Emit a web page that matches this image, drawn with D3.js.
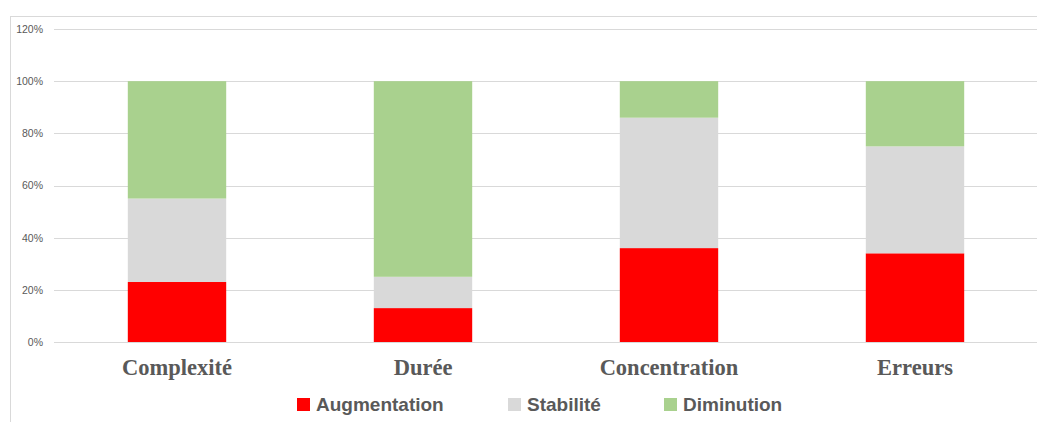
<!DOCTYPE html>
<html><head><meta charset="utf-8">
<script src="https://cdn.jsdelivr.net/npm/d3@7"></script>
<style>html,body{margin:0;padding:0;background:#fff;}svg{display:block;}</style>
</head><body>
<svg id="chart" width="1037" height="422"></svg>
<script>
const categories = ["Complexité", "Durée", "Concentration", "Erreurs"];
const seriesNames = ["Augmentation", "Stabilité", "Diminution"];
const augmentation = [23, 13, 36, 34];
const stabilite = [32, 12, 50, 41];
const diminution = [45, 75, 14, 25];
const colors = ["#ff0000", "#d9d9d9", "#a9d18e"];
const yTicks = [0, 20, 40, 60, 80, 100, 120];

const svg = d3.select("#chart");
const W = 1037, H = 422;

// chart border
svg.append("rect").attr("x", 10.5).attr("y", 16.5).attr("width", W + 20).attr("height", H + 20)
  .attr("fill", "#fff").attr("stroke", "#d9d9d9").attr("stroke-width", 1);

const x = d3.scaleBand().domain(categories).range([54, 1038]).paddingInner(0.6).paddingOuter(0.3);
const y = d3.scaleLinear().domain([0, 120]).range([342, 29]);

// gridlines
svg.append("g").selectAll("line").data(yTicks).join("line")
  .attr("x1", 54).attr("x2", W).attr("y1", d => Math.round(y(d)) + 0.5).attr("y2", d => Math.round(y(d)) + 0.5)
  .attr("stroke", "#d9d9d9").attr("stroke-width", 1);

// y axis labels
const yAxis = d3.axisLeft(y).tickValues(yTicks).tickFormat(d => d + "%").tickSize(0).tickPadding(0);
const ga = svg.append("g").attr("transform", "translate(43,0)").call(yAxis);
ga.select(".domain").remove();
ga.selectAll("text").attr("fill", "#595959").style("font-family", "Liberation Sans, Arial, sans-serif").style("font-size", "10.5px");

// stacked data
const rows = categories.map((c, i) => ({cat: c, Augmentation: augmentation[i], "Stabilité": stabilite[i], Diminution: diminution[i]}));
const stack = d3.stack().keys(seriesNames)(rows);

svg.append("g").selectAll("g").data(stack).join("g")
  .attr("fill", (d, i) => colors[i])
  .selectAll("rect").data(d => d).join("rect")
  .attr("x", d => x(d.data.cat))
  .attr("width", x.bandwidth())
  .attr("y", d => y(d[1]))
  .attr("height", d => y(d[0]) - y(d[1]));

// x axis line
svg.append("line").attr("x1", 54).attr("x2", W).attr("y1", 342.5).attr("y2", 342.5).attr("stroke", "#d9d9d9");

// category labels
const xAxis = d3.axisBottom(x).tickSize(0).tickPadding(0);
const gx = svg.append("g").attr("transform", "translate(0,375)").call(xAxis);
gx.select(".domain").remove();
gx.selectAll("text").attr("dy", 0).attr("y", 0)
  .attr("fill", "#595959").style("font-family", "Liberation Serif, Times New Roman, serif")
  .style("font-size", "22.5px").style("font-weight", "bold");

// legend
const legendX = [297, 508, 664];
const lg = svg.append("g").selectAll("g").data(seriesNames).join("g")
  .attr("transform", (d, i) => `translate(${legendX[i]},0)`);
lg.append("rect").attr("x", 0).attr("y", 398).attr("width", 13).attr("height", 13).attr("fill", (d, i) => colors[i]);
lg.append("text").attr("x", 19).attr("y", 411).text(d => d)
  .attr("fill", "#595959").style("font-family", "Liberation Sans, Arial, sans-serif")
  .style("font-size", "19px").style("font-weight", "bold");
</script>
</body></html>
